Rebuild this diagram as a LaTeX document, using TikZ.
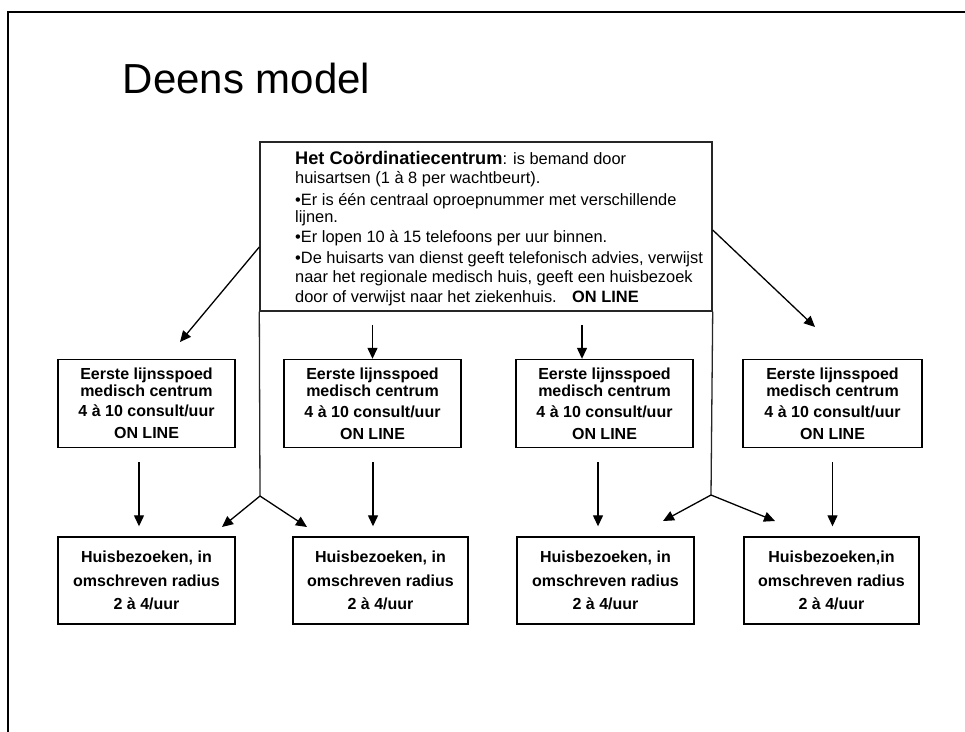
\documentclass[tikz,border=0pt]{standalone}
\usepackage{fontspec}
\setmainfont{Liberation Sans}
\usetikzlibrary{arrows.meta}

\begin{document}
\begin{tikzpicture}[x=1pt,y=-1pt,
  ln/.style={draw=black, line width=1.3pt},
  arr/.style={ln, -{Triangle[length=11pt,width=10pt]}},
  midbox/.style={draw=black, line width=1.4pt, rectangle, inner sep=0pt,
    minimum width=177pt, minimum height=88pt, align=center,
    font=\bfseries\fontsize{16}{17}\selectfont},
  lowbox/.style={draw=black, line width=1.4pt, rectangle, inner sep=0pt,
    minimum width=176pt, minimum height=87pt, align=center,
    font=\bfseries\fontsize{16}{23.5}\selectfont},
  txt/.style={anchor=base west, inner sep=0pt, font=\fontsize{16.4}{19}\selectfont}]

\useasboundingbox (0,0) rectangle (965,731);
\fill[white] (0,0) rectangle (965,731);

% slide frame
\draw[line width=2pt] (8,745) -- (8,12) -- (980,12);

% title
\node[anchor=base west, inner sep=0pt, font=\fontsize{42}{50}\selectfont] (title) at (122.7,93) {Deens model};

% coordination centre
\node[draw=black!85, line width=1.4pt, rectangle, inner sep=0pt,
      minimum width=452pt, minimum height=169pt] (cc) at (486,226.5) {};
\node[txt] (t1) at (295,164.3) {{\bfseries\fontsize{18.2}{20}\selectfont Het Coördinatiecentrum}: is bemand door};
\node[txt] (t2) at (295,183) {huisartsen (1 à 8 per wachtbeurt).};
\node[txt] (t3) at (295,205) {•Er is één centraal oproepnummer met verschillende};
\node[txt] (t4) at (295,222) {lijnen.};
\node[txt] (t5) at (295,242) {•Er lopen 10 à 15 telefoons per uur binnen.};
\node[txt] (t6) at (295,263) {•De huisarts van dienst geeft telefonisch advies, verwijst};
\node[txt] (t7) at (295,282) {naar het regionale medisch huis, geeft een huisbezoek};
\node[txt] (t8) at (295,302) {door of verwijst naar het ziekenhuis.};
\node[txt, font=\bfseries\fontsize{16.4}{19}\selectfont] (t9) at (572,302) {ON LINE};

% first-line medical centres
\node[midbox] (m1) at (146.5,403.5) {Eerste lijnsspoed\\medisch centrum\\[3pt]4 à 10 consult/uur\\[5pt]ON LINE};
\node[midbox] (m2) at (372.5,403.5) {Eerste lijnsspoed\\medisch centrum\\[4pt]4 à 10 consult/uur\\[5pt]ON LINE};
\node[midbox] (m3) at (604.5,403.5) {Eerste lijnsspoed\\medisch centrum\\[4pt]4 à 10 consult/uur\\[5pt]ON LINE};
\node[midbox, minimum width=179pt] (m4) at (832.5,403.5) {Eerste lijnsspoed\\medisch centrum\\[4pt]4 à 10 consult/uur\\[5pt]ON LINE};

% home visits
\node[lowbox, minimum width=177pt] (b1) at (146.5,580.5) {Huisbezoeken, in\\omschreven radius\\2 à 4/uur};
\node[lowbox, minimum width=175pt] (b2) at (380.5,580.5) {Huisbezoeken, in\\omschreven radius\\2 à 4/uur};
\node[lowbox, minimum width=177pt] (b3) at (605.5,580.5) {Huisbezoeken, in\\omschreven radius\\2 à 4/uur};
\node[lowbox, minimum width=175pt] (b4) at (831.5,580.5) {Huisbezoeken,in\\omschreven radius\\2 à 4/uur};

% branch points and free arrow ends
\coordinate (sl) at (260,496);
\coordinate (sr) at (711,495);
\coordinate (tl) at (180,342);
\coordinate (tr) at (815,327);
\coordinate (sl1) at (222,527);
\coordinate (sl2) at (307,527);
\coordinate (sr1) at (663,521);
\coordinate (sr2) at (775,521);

% side lines of the centre running down to the branch points
\draw[ln, draw=black!85] (cc.south west) -- (sl);
\draw[ln, draw=black!85] (cc.south east) -- (sr);

% diagonal arrows out of the centre
\draw[arr] ([yshift=-20.5pt]cc.west) -- (tl);
\draw[arr] ([yshift=-3.5pt]cc.east) -- (tr);

% arrows down to the inner medical centres
\draw[arr] ([yshift=34pt]m2.north) -- (m2.north);
\draw[arr] ([xshift=-22.5pt,yshift=34pt]m3.north) -- ([xshift=-22.5pt]m3.north);

% arrows from medical centres to home visits
\draw[arr] ([xshift=-7.5pt,yshift=-14pt]m1.south) -- ([xshift=-7.5pt,yshift=10pt]b1.north);
\draw[arr] ([xshift=0.5pt,yshift=-14pt]m2.south) -- ([xshift=0.5pt,yshift=10pt]m2.south |- b2.north);
\draw[arr] ([xshift=-6.5pt,yshift=-14pt]m3.south) -- ([xshift=-6.5pt,yshift=10pt]m3.south |- b3.north);
\draw[arr] ([yshift=-14pt]m4.south) -- ([yshift=10pt]m4.south |- b4.north);

% branching arrows
\draw[arr] (sl) -- (sl1);
\draw[arr] (sl) -- (sl2);
\draw[arr] (sr) -- (sr1);
\draw[arr] (sr) -- (sr2);
\end{tikzpicture}
\end{document}
